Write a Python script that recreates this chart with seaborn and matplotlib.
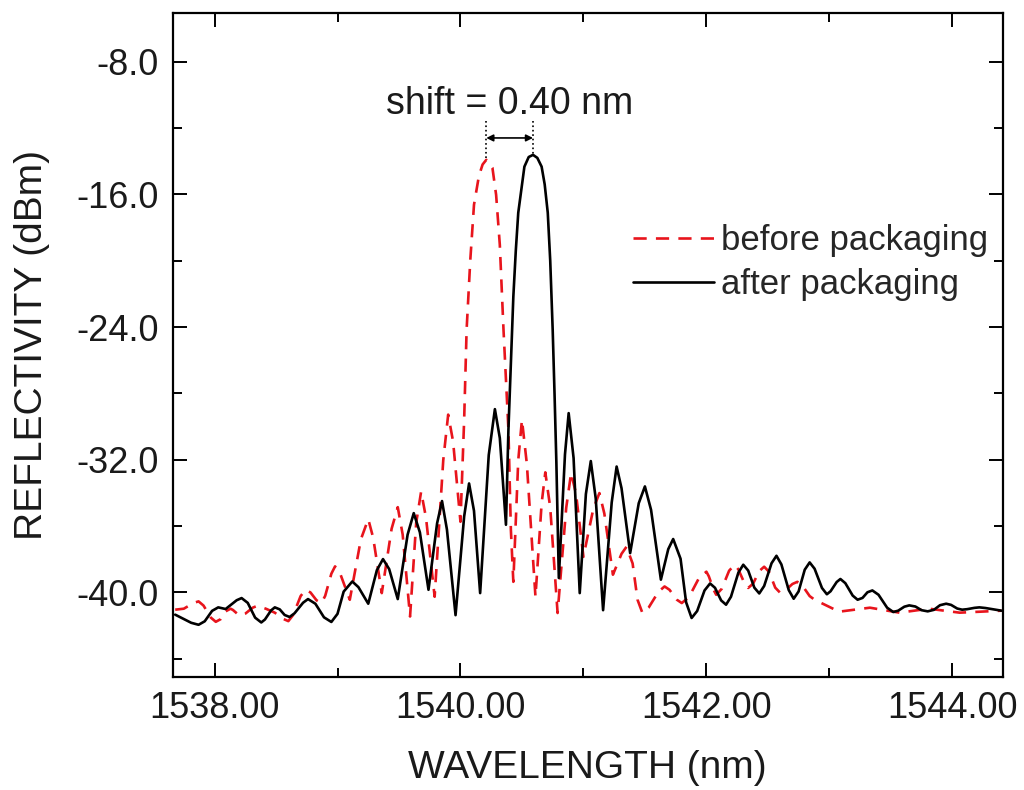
import matplotlib
matplotlib.use("Agg")
import matplotlib.pyplot as plt
import numpy as np
import pandas as pd
import seaborn as sns

# values (wavelength in nm, reflectivity in dBm)
before_wl = [1537.68, 1537.75, 1537.83, 1537.87, 1537.91, 1537.97, 1538.01, 1538.05,
             1538.09, 1538.13, 1538.15, 1538.19, 1538.21, 1538.25, 1538.31, 1538.35,
             1538.42, 1538.49, 1538.56, 1538.60, 1538.64, 1538.70, 1538.74, 1538.78,
             1538.83, 1538.87, 1538.90, 1538.95, 1538.98, 1539.02, 1539.10, 1539.19,
             1539.25, 1539.29, 1539.36, 1539.44, 1539.49, 1539.53, 1539.59, 1539.64,
             1539.68, 1539.72, 1539.79, 1539.86, 1539.90, 1539.94, 1540.00, 1540.03,
             1540.05, 1540.08, 1540.11, 1540.15, 1540.18, 1540.21, 1540.26, 1540.29,
             1540.32, 1540.35, 1540.39, 1540.41, 1540.43, 1540.47, 1540.50, 1540.54,
             1540.61, 1540.66, 1540.69, 1540.73, 1540.79, 1540.86, 1540.90, 1540.94,
             1541.00, 1541.08, 1541.13, 1541.17, 1541.24, 1541.31, 1541.35, 1541.40,
             1541.44, 1541.48, 1541.53, 1541.61, 1541.66, 1541.70, 1541.76, 1541.80,
             1541.86, 1541.94, 1542.00, 1542.02, 1542.06, 1542.08, 1542.125, 1542.185,
             1542.23, 1542.26, 1542.31, 1542.34, 1542.38, 1542.43, 1542.47, 1542.51,
             1542.56, 1542.60, 1542.64, 1542.70, 1542.74, 1542.78, 1542.84, 1542.88,
             1543.08, 1543.33, 1543.57, 1543.81, 1544.06, 1544.40]
before_db = [-41.04, -40.98, -40.63, -40.54, -40.79, -41.52, -41.77, -41.61,
             -41.14, -40.98, -41.06, -41.32, -41.40, -41.28, -40.92, -40.80,
             -40.99, -41.22, -41.60, -41.73, -41.35, -40.22, -39.84, -40.00,
             -40.48, -40.64, -40.20, -38.87, -38.43, -38.83, -40.44, -36.80,
             -35.58, -36.70, -40.04, -36.16, -34.86, -36.51, -41.45, -35.80,
             -33.92, -35.51, -40.26, -32.03, -29.28, -30.90, -35.74, -29.59,
             -24.16, -19.95, -16.63, -14.89, -14.20, -13.92, -14.40, -16.03,
             -19.04, -24.16, -30.18, -36.22, -39.36, -32.03, -29.59, -32.26,
             -40.26, -34.64, -32.76, -34.88, -41.24, -34.90, -32.79, -34.06,
             -37.85, -34.97, -34.01, -35.24, -38.93, -37.67, -37.25, -38.25,
             -40.44, -41.24, -40.92, -39.96, -39.64, -39.84, -40.44, -40.64,
             -40.26, -39.13, -38.75, -39.03, -39.86, -40.14, -39.78, -38.69,
             -38.33, -38.61, -39.45, -39.73, -39.47, -38.71, -38.45, -38.76,
             -39.71, -40.02, -39.89, -39.49, -39.36, -39.58, -40.22, -40.44,
             -41.16, -40.92, -41.22, -40.98, -41.22, -41.10]

after_wl = [1537.68, 1537.81, 1537.87, 1537.92, 1537.98, 1538.03, 1538.09, 1538.18,
            1538.22, 1538.27, 1538.33, 1538.38, 1538.41, 1538.46, 1538.49, 1538.53,
            1538.57, 1538.61, 1538.65, 1538.72, 1538.76, 1538.82, 1538.89, 1538.95,
            1539.00, 1539.05, 1539.12, 1539.17, 1539.25, 1539.32, 1539.37, 1539.42,
            1539.49, 1539.57, 1539.62, 1539.67, 1539.74, 1539.81, 1539.85, 1539.89,
            1539.96, 1540.03, 1540.07, 1540.11, 1540.16, 1540.23, 1540.28, 1540.32,
            1540.37, 1540.39, 1540.43, 1540.45, 1540.47, 1540.52, 1540.555, 1540.59,
            1540.625, 1540.66, 1540.685, 1540.71, 1540.73, 1540.75, 1540.765, 1540.78,
            1540.80, 1540.85, 1540.88, 1540.92, 1540.97, 1541.02, 1541.06, 1541.10,
            1541.16, 1541.23, 1541.27, 1541.31, 1541.38, 1541.45, 1541.50, 1541.55,
            1541.63, 1541.69, 1541.73, 1541.79, 1541.835, 1541.88, 1541.925, 1541.985,
            1542.03, 1542.07, 1542.12, 1542.16, 1542.20, 1542.26, 1542.30, 1542.34,
            1542.39, 1542.43, 1542.47, 1542.53, 1542.57, 1542.61, 1542.67, 1542.71,
            1542.75, 1542.80, 1542.84, 1542.88, 1542.94, 1542.98, 1543.01, 1543.06,
            1543.09, 1543.13, 1543.19, 1543.23, 1543.27, 1543.31, 1543.35, 1543.40,
            1543.47, 1543.52, 1543.56, 1543.61, 1543.65, 1543.70, 1543.75, 1543.80,
            1543.85, 1543.90, 1543.95, 1543.99, 1544.04, 1544.08, 1544.12, 1544.18,
            1544.22, 1544.27, 1544.40]
after_db = [-41.34, -41.83, -41.95, -41.74, -41.11, -40.90, -41.00, -40.47,
            -40.34, -40.63, -41.52, -41.81, -41.63, -41.08, -40.90, -41.02,
            -41.36, -41.48, -41.26, -40.62, -40.40, -40.68, -41.50, -41.78,
            -41.29, -39.95, -39.34, -39.68, -40.68, -38.66, -37.99, -38.59,
            -40.40, -36.52, -35.22, -36.38, -39.84, -35.83, -34.49, -36.21,
            -41.37, -35.42, -33.43, -35.08, -40.04, -31.72, -28.95, -30.69,
            -35.92, -30.20, -22.17, -19.40, -17.11, -14.33, -13.75, -13.62,
            -13.80, -14.33, -15.40, -17.11, -20.00, -24.16, -28.00, -32.17,
            -39.13, -31.68, -29.19, -31.90, -40.04, -34.07, -32.08, -34.33,
            -41.07, -34.58, -32.41, -33.72, -37.63, -34.62, -33.61, -35.02,
            -39.23, -37.39, -36.78, -37.97, -40.59, -41.54, -41.12, -39.88,
            -39.46, -39.72, -40.48, -40.74, -40.26, -38.81, -38.33, -38.68,
            -39.71, -40.06, -39.61, -38.24, -37.79, -38.31, -39.86, -40.38,
            -39.94, -38.63, -38.19, -38.57, -39.73, -40.11, -39.93, -39.37,
            -39.19, -39.44, -40.19, -40.44, -40.33, -39.99, -39.88, -40.14,
            -40.92, -41.18, -41.10, -40.86, -40.78, -40.85, -41.07, -41.14,
            -41.05, -40.77, -40.68, -40.75, -40.97, -41.04, -41.01, -40.93,
            -40.90, -40.94, -41.10]

series_labels = ["before packaging", "after packaging"]
shift_text = "shift = 0.40 nm"
x_ticks = [1538.0, 1540.0, 1542.0, 1544.0]
y_ticks = [-40.0, -32.0, -24.0, -16.0, -8.0]

before = pd.DataFrame({"wl": before_wl, "db": before_db})
after = pd.DataFrame({"wl": after_wl, "db": after_db})

sns.set_theme(style="ticks")
plt.rcParams["font.family"] = ["Liberation Sans", "DejaVu Sans"]

fig = plt.figure(figsize=(10.24, 7.9), dpi=100)
ax = fig.add_axes([0.1687, 0.1430, 0.8105, 0.8409])

red = "#e8141c"
sns.lineplot(data=before, x="wl", y="db", ax=ax, color=red, linewidth=1.9,
             linestyle=(0, (5, 3.5)), label=series_labels[0])
sns.lineplot(data=after, x="wl", y="db", ax=ax, color="black", linewidth=1.9,
             label=series_labels[1])
for ln in ax.lines:
    ln.set_solid_joinstyle("round")
    ln.set_dash_joinstyle("round")

ax.set_xlim(1537.66, 1544.41)
ax.set_ylim(-45.1, -5.05)
ax.set_xticks(x_ticks)
ax.set_xticklabels([f"{v:.2f}" for v in x_ticks])
ax.set_yticks(y_ticks)
ax.set_yticklabels([f"{v:.1f}" for v in y_ticks])
ax.xaxis.set_minor_locator(matplotlib.ticker.MultipleLocator(1.0))
ax.yaxis.set_minor_locator(matplotlib.ticker.MultipleLocator(4.0))
ax.tick_params(which="both", direction="in", top=True, right=True,
               labelsize=26, width=1.4, color="black", labelcolor="#1a1a1a")
ax.tick_params(which="major", length=10, pad=10)
ax.tick_params(which="minor", length=6.5)
for sp in ax.spines.values():
    sp.set_linewidth(1.6)
    sp.set_color("black")

ax.set_xlabel("WAVELENGTH (nm)", fontsize=28, labelpad=17, color="#1a1a1a")
ax.set_ylabel("REFLECTIVITY (dBm)", fontsize=28, labelpad=19, color="#1a1a1a")

# shift annotation between the two peak maxima
i_b = int(np.argmax(before_db))
i_a = int(np.argmax(after_db))
xb, yb = before_wl[i_b], before_db[i_b]
xa, ya = after_wl[i_a], after_db[i_a]
y_arrow = -12.6
y_line_top = -11.6
ax.plot([xb, xb], [y_line_top, yb], color="black", linestyle=":", linewidth=1.2)
ax.plot([xa, xa], [y_line_top, ya], color="black", linestyle=":", linewidth=1.2)
ax.annotate("", xy=(xb, y_arrow), xytext=(xa, y_arrow),
            arrowprops=dict(arrowstyle="<|-|>", color="black", lw=1.2,
                            mutation_scale=10, shrinkA=0, shrinkB=0))
ax.text((xa + xb) / 2, -10.55, shift_text, fontsize=27, ha="center",
        va="center", color="#1a1a1a")

ax.legend(loc="center left", bbox_to_anchor=(0.554, 0.624), frameon=False,
          fontsize=25, handlelength=2.36, handletextpad=0.2, labelspacing=0.3,
          borderpad=0, borderaxespad=0)

fig.savefig("out.png", dpi=100)
plt.close(fig)
